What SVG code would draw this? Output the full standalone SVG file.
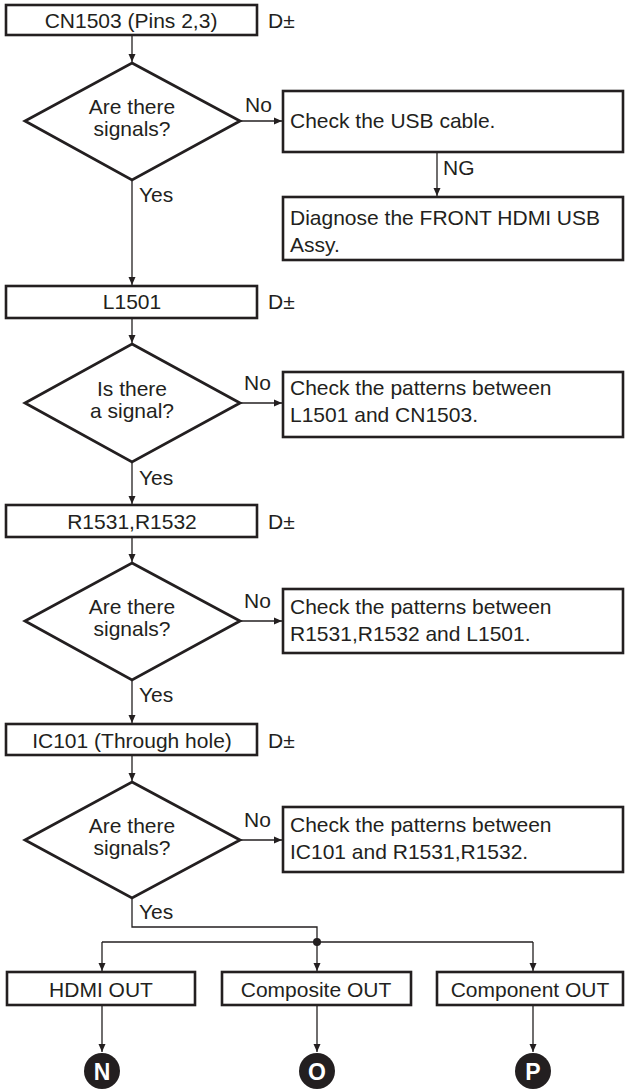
<svg xmlns="http://www.w3.org/2000/svg" width="625" height="1092" viewBox="0 0 625 1092">
<style>
.box{fill:#fff;stroke:#231f20;stroke-width:2.6}
.dia{fill:#fff;stroke:#231f20;stroke-width:2.8;stroke-linejoin:miter}
.ln{fill:none;stroke:#231f20;stroke-width:1.3}
.t{font-family:"Liberation Sans",Arial,sans-serif;font-size:21px;fill:#231f20}
.c{text-anchor:middle}
.lt{font-family:"Liberation Sans",Arial,sans-serif;font-size:23px;fill:#fff;font-weight:bold;text-anchor:middle}
</style>
<defs>
<marker id="ah" markerUnits="userSpaceOnUse" markerWidth="8" markerHeight="12" viewBox="0 0 8 12" refX="8" refY="6" orient="auto">
<path d="M0,2.5 L8,6 L0,9.5 Z" fill="#231f20"/>
</marker>
</defs>
<rect width="625" height="1092" fill="#fff"/>
<g id="connectors">
<line class="ln" x1="132" y1="35" x2="132" y2="62" marker-end="url(#ah)"/>
<line class="ln" x1="240" y1="121" x2="282" y2="121" marker-end="url(#ah)"/>
<line class="ln" x1="437" y1="152" x2="437" y2="196" marker-end="url(#ah)"/>
<line class="ln" x1="132" y1="180" x2="132" y2="285" marker-end="url(#ah)"/>
<line class="ln" x1="132" y1="318" x2="132" y2="343" marker-end="url(#ah)"/>
<line class="ln" x1="240" y1="403" x2="282" y2="403" marker-end="url(#ah)"/>
<line class="ln" x1="132" y1="462" x2="132" y2="504" marker-end="url(#ah)"/>
<line class="ln" x1="132" y1="537" x2="132" y2="562" marker-end="url(#ah)"/>
<line class="ln" x1="240" y1="621" x2="282" y2="621" marker-end="url(#ah)"/>
<line class="ln" x1="132" y1="680" x2="132" y2="723" marker-end="url(#ah)"/>
<line class="ln" x1="132" y1="755" x2="132" y2="781" marker-end="url(#ah)"/>
<line class="ln" x1="240" y1="840" x2="282" y2="840" marker-end="url(#ah)"/>
<polyline class="ln" points="132,898 132,927 317,927 317,942"/>
<line class="ln" x1="102" y1="942" x2="533" y2="942"/>
<line class="ln" x1="102" y1="942" x2="102" y2="971" marker-end="url(#ah)"/>
<line class="ln" x1="317" y1="942" x2="317" y2="971" marker-end="url(#ah)"/>
<line class="ln" x1="533" y1="942" x2="533" y2="971" marker-end="url(#ah)"/>
<circle cx="317" cy="942" r="4" fill="#231f20"/>
<line class="ln" x1="102" y1="1005" x2="102" y2="1052" marker-end="url(#ah)"/>
<line class="ln" x1="317" y1="1005" x2="317" y2="1052" marker-end="url(#ah)"/>
<line class="ln" x1="533" y1="1005" x2="533" y2="1052" marker-end="url(#ah)"/>
<text class="t" x="245" y="112">No</text>
<text class="t" x="443" y="175">NG</text>
<text class="t" x="139" y="202">Yes</text>
<text class="t" x="244" y="390">No</text>
<text class="t" x="139" y="485">Yes</text>
<text class="t" x="244" y="608">No</text>
<text class="t" x="139" y="702">Yes</text>
<text class="t" x="244" y="827">No</text>
<text class="t" x="139" y="919">Yes</text>
</g>
<g id="n-cn1503">
<rect class="box" x="6" y="5" width="251" height="30"/>
<text class="t c" x="131" y="28">CN1503 (Pins 2,3)</text>
<text class="t" x="268" y="28">D±</text>
</g>
<g id="d1">
<polygon class="dia" points="132,63 240,121 132,180 25,121"/>
<text class="t c" x="132" y="114">Are there</text>
<text class="t c" x="132" y="136">signals?</text>
</g>
<g id="n-usb">
<rect class="box" x="283" y="91" width="340" height="61"/>
<text class="t" x="290" y="128">Check the USB cable.</text>
</g>
<g id="n-diag">
<rect class="box" x="283" y="197" width="340" height="63"/>
<text class="t" x="290" y="225">Diagnose the FRONT HDMI USB</text>
<text class="t" x="290" y="252">Assy.</text>
</g>
<g id="n-l1501">
<rect class="box" x="6" y="286" width="251" height="32"/>
<text class="t c" x="132" y="309">L1501</text>
<text class="t" x="268" y="309">D±</text>
</g>
<g id="d2">
<polygon class="dia" points="132,344 240,403 132,462 25,403"/>
<text class="t c" x="132" y="396">Is there</text>
<text class="t c" x="132" y="418">a signal?</text>
</g>
<g id="n-chk2">
<rect class="box" x="283" y="372" width="340" height="65"/>
<text class="t" x="290" y="395">Check the patterns between</text>
<text class="t" x="290" y="422">L1501 and CN1503.</text>
</g>
<g id="n-r1531">
<rect class="box" x="6" y="505" width="251" height="32"/>
<text class="t c" x="132" y="529">R1531,R1532</text>
<text class="t" x="268" y="529">D±</text>
</g>
<g id="d3">
<polygon class="dia" points="132,563 240,621 132,680 25,621"/>
<text class="t c" x="132" y="614">Are there</text>
<text class="t c" x="132" y="636">signals?</text>
</g>
<g id="n-chk3">
<rect class="box" x="283" y="589" width="340" height="64"/>
<text class="t" x="290" y="614">Check the patterns between</text>
<text class="t" x="290" y="641">R1531,R1532 and L1501.</text>
</g>
<g id="n-ic101">
<rect class="box" x="6" y="724" width="251" height="31"/>
<text class="t c" x="132" y="748">IC101 (Through hole)</text>
<text class="t" x="268" y="748">D±</text>
</g>
<g id="d4">
<polygon class="dia" points="132,782 240,840 132,898 25,840"/>
<text class="t c" x="132" y="833">Are there</text>
<text class="t c" x="132" y="855">signals?</text>
</g>
<g id="n-chk4">
<rect class="box" x="283" y="807" width="340" height="65"/>
<text class="t" x="290" y="832">Check the patterns between</text>
<text class="t" x="290" y="859">IC101 and R1531,R1532.</text>
</g>
<g id="n-hdmi">
<rect class="box" x="7" y="972" width="188" height="33"/>
<text class="t c" x="101" y="997">HDMI OUT</text>
</g>
<g id="n-comp">
<rect class="box" x="222" y="972" width="189" height="33"/>
<text class="t c" x="316" y="997">Composite OUT</text>
</g>
<g id="n-compo">
<rect class="box" x="437" y="972" width="186" height="33"/>
<text class="t c" x="530" y="997">Component OUT</text>
</g>
<g id="c-n">
<circle cx="102" cy="1071" r="18" fill="#231f20"/>
<text class="lt" x="102" y="1079.5">N</text>
</g>
<g id="c-o">
<circle cx="317" cy="1071" r="18" fill="#231f20"/>
<text class="lt" x="317" y="1079.5">O</text>
</g>
<g id="c-p">
<circle cx="533" cy="1071" r="18" fill="#231f20"/>
<text class="lt" x="533" y="1079.5">P</text>
</g>
</svg>
